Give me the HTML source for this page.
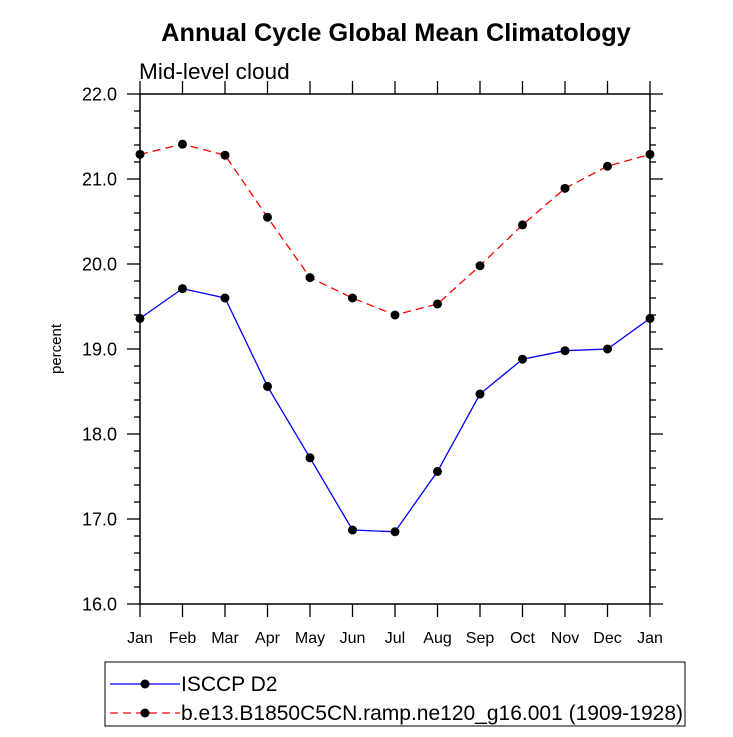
<!DOCTYPE html>
<html><head><meta charset="utf-8"><style>
body{margin:0;background:#fff}
svg{display:block;font-family:"Liberation Sans",sans-serif}
</style></head><body>
<svg id="chart" width="733" height="737" viewBox="0 0 733 737">
<text x="396" y="41" text-anchor="middle" font-size="25.3" font-weight="bold">Annual Cycle Global Mean Climatology</text>
<text x="139" y="79" font-size="22.6">Mid-level cloud</text>
<text transform="translate(61,349) rotate(-90)" text-anchor="middle" font-size="15">percent</text>
<g id="axes"></g>
<g id="series"></g>
<g>
<rect x="105" y="662" width="580" height="64" fill="none" stroke="#000" stroke-width="1"/>
<g>
<line x1="110" y1="684" x2="180" y2="684" stroke="#00f" stroke-width="1.2"/>
<circle cx="145" cy="684" r="4.5" fill="#000"/>
<text x="181" y="691" font-size="21">ISCCP D2</text></g>
<g>
<line x1="110" y1="713" x2="180" y2="713" stroke="#f00" stroke-width="1.2" stroke-dasharray="8,5"/>
<circle cx="145" cy="713" r="4.5" fill="#000"/>
<text x="181" y="720" font-size="21" textLength="502">b.e13.B1850C5CN.ramp.ne120_g16.001 (1909-1928)</text></g>
</g>
</svg>
<script>
const months=["Jan","Feb","Mar","Apr","May","Jun","Jul","Aug","Sep","Oct","Nov","Dec","Jan"];
const isccp=[19.36,19.71,19.60,18.56,17.72,16.87,16.85,17.56,18.47,18.88,18.98,19.00,19.36];
const model=[21.29,21.41,21.28,20.55,19.84,19.60,19.40,19.53,19.98,20.46,20.89,21.15,21.29];
const yTicks=["16.0","17.0","18.0","19.0","20.0","21.0","22.0"];
const NS="http://www.w3.org/2000/svg";
const L=140,R=650,T=94,B=604,ymin=16,ymax=22;
const xs=i=>L+(R-L)*i/(months.length-1);
const ys=v=>B-(v-ymin)/(ymax-ymin)*(B-T);
function mk(t,a,p){const e=document.createElementNS(NS,t);for(const k in a)e.setAttribute(k,a[k]);p.appendChild(e);return e;}
const ax=document.getElementById('axes');
const fr=mk('rect',{x:L,y:T,width:R-L,height:B-T,fill:'none',stroke:'#000','stroke-width':1.5},ax);


months.forEach((m,i)=>{const x=xs(i);
mk('line',{x1:x,y1:B,x2:x,y2:B+13,stroke:'#000','stroke-width':1.3},ax);
mk('line',{x1:x,y1:T,x2:x,y2:T-13,stroke:'#000','stroke-width':1.3},ax);
const t=mk('text',{x:x,y:B+39,'text-anchor':'middle','font-size':16},ax);t.textContent=m;

});
for(let v=ymin;v<=ymax+1e-6;v+=0.2){const y=ys(v);const maj=Math.abs(v-Math.round(v))<1e-6;const len=maj?13:6;
mk('line',{x1:L,y1:y,x2:L-len,y2:y,stroke:'#000','stroke-width':1.3},ax);
mk('line',{x1:R,y1:y,x2:R+len,y2:y,stroke:'#000','stroke-width':1.3},ax);}
yTicks.forEach(s=>{const t=mk('text',{x:117,y:ys(parseFloat(s))+6.5,'text-anchor':'end','font-size':18},ax);t.textContent=s;

});
const sg=document.getElementById('series');
function series(d,color,dash,name){
const p=mk('polyline',{points:d.map((v,i)=>xs(i)+','+ys(v)).join(' '),fill:'none',stroke:color,'stroke-width':1.3,'stroke-dasharray':dash},sg);


d.forEach((v,i)=>{const c=mk('circle',{cx:xs(i),cy:ys(v),r:4.5,fill:'#000'},sg);

});}
series(model,'#f00','8,5','model');
series(isccp,'#00f','none','isccp');
</script>
</body></html>
